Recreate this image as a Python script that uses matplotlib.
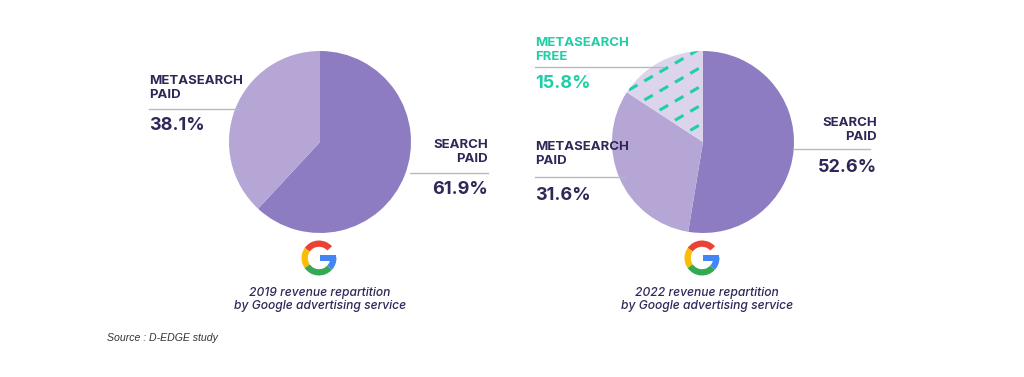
import matplotlib
matplotlib.use("Agg")
import matplotlib.pyplot as plt
import numpy as np
from matplotlib.patches import Wedge, Rectangle

# ---- data ----
labels_2019 = ["SEARCH\nPAID", "METASEARCH\nPAID"]
values_2019 = [61.9, 38.1]
labels_2022 = ["SEARCH\nPAID", "METASEARCH\nPAID", "METASEARCH\nFREE"]
values_2022 = [52.6, 31.6, 15.8]
captions = ["2019 revenue repartition\nby Google advertising service",
            "2022 revenue repartition\nby Google advertising service"]
source = "Source : D-EDGE study"

W, H = 1024, 377
C_SEARCH = "#8e7cc3"
C_META = "#b5a6d6"
C_FREE = "#dcd4ec"
C_TEXT = "#2e2858"
C_TEAL = "#1fcfa6"
C_LINE = "#b8b8c0"
FONT = "Inter"

fig = plt.figure(figsize=(W / 100, H / 100), dpi=100)
ax = fig.add_axes([0, 0, 1, 1])

def Y(y):
    return H - y

# ---- pies ----
r = 91
c1 = (320, Y(142))
c2 = (703, Y(142))
w1, _ = ax.pie(values_2019, colors=[C_SEARCH, C_META], startangle=90,
               counterclock=False, center=c1, radius=r, frame=True,
               wedgeprops=dict(linewidth=0))
w2, _ = ax.pie(values_2022, colors=[C_SEARCH, C_META, C_FREE], startangle=90,
               counterclock=False, center=c2, radius=r, frame=True,
               wedgeprops=dict(linewidth=0))
ax.set_xlim(0, W)
ax.set_ylim(0, H)
ax.set_aspect("equal")
ax.axis("off")

# dashed hatch in the free wedge
free = w2[2]
for k in np.arange(-8, 9):
    x0 = c2[0] - 120
    x1 = c2[0] + 120
    off = k * 19
    slope = 0.58
    xs = np.array([x0, x1])
    ys = c2[1] + off + slope * (xs - c2[0])
    ln, = ax.plot(xs, ys, color=C_TEAL, lw=2.2, linestyle=(0, (3.2, 2.6)),
                  solid_capstyle="butt", dash_capstyle="butt")
    ln.set_clip_path(free)

# ---- labels ----
def label(x, y1, y2, yline, ypct, xl0, xl1, name, pct, ha, color):
    n1, n2 = name.split("\n")
    kw = dict(fontsize=9.5, fontweight="bold", color=color, ha=ha,
              va="center", family=FONT)
    ax.text(x, Y(y1), n1, **kw)
    ax.text(x, Y(y2), n2, **kw)
    ax.plot([xl0, xl1], [Y(yline), Y(yline)], color=C_LINE, lw=1)
    ax.text(x, Y(ypct), f"{pct:.1f}%", fontsize=13, fontweight="bold",
            color=color, ha=ha, va="center", family=FONT)

# 2019
label(149, 81, 95.5, 109, 126, 149, 238, labels_2019[1], values_2019[1], "left", C_TEXT)
label(488, 145, 159.5, 173, 189, 410, 488, labels_2019[0], values_2019[0], "right", C_TEXT)
# 2022
label(535, 42.5, 57, 67, 83.5, 535, 663, labels_2022[2], values_2022[2], "left", C_TEAL)
label(535, 147, 161, 177, 196, 535, 625, labels_2022[1], values_2022[1], "left", C_TEXT)
label(877, 122.5, 137, 149, 168, 793, 870, labels_2022[0], values_2022[0], "right", C_TEXT)

# ---- Google G logos ----
def google_g(cx, cy, R):
    rin = R * 0.64
    wd = R - rin
    ax.add_patch(Wedge((cx, cy), R, 42, 145, width=wd, color="#ea4335", lw=0))
    ax.add_patch(Wedge((cx, cy), R, 145, 215, width=wd, color="#fbbc05", lw=0))
    ax.add_patch(Wedge((cx, cy), R, 215, 318, width=wd, color="#34a853", lw=0))
    ax.add_patch(Wedge((cx, cy), R, 318, 362, width=wd, color="#4285f4", lw=0))
    ax.add_patch(Rectangle((cx + 0.03 * R, cy - 0.17 * R), 0.95 * R, 0.36 * R,
                           color="#4285f4", lw=0))

google_g(319, Y(258), 17.5)
google_g(702, Y(258), 17.5)

# ---- captions ----
for cx, cap in zip([320, 707], captions):
    l1, l2 = cap.split("\n")
    ax.text(cx, Y(293), l1, fontsize=8.7, style="italic", color=C_TEXT,
            ha="center", va="center", family=FONT, fontweight="medium")
    ax.text(cx, Y(306), l2, fontsize=8.7, style="italic", color=C_TEXT,
            ha="center", va="center", family=FONT, fontweight="medium")

ax.text(107, Y(338), source, fontsize=7.6, style="italic", color="#333333",
        ha="left", va="center", family="Liberation Sans")

fig.savefig("out.png", dpi=100, facecolor="white")
